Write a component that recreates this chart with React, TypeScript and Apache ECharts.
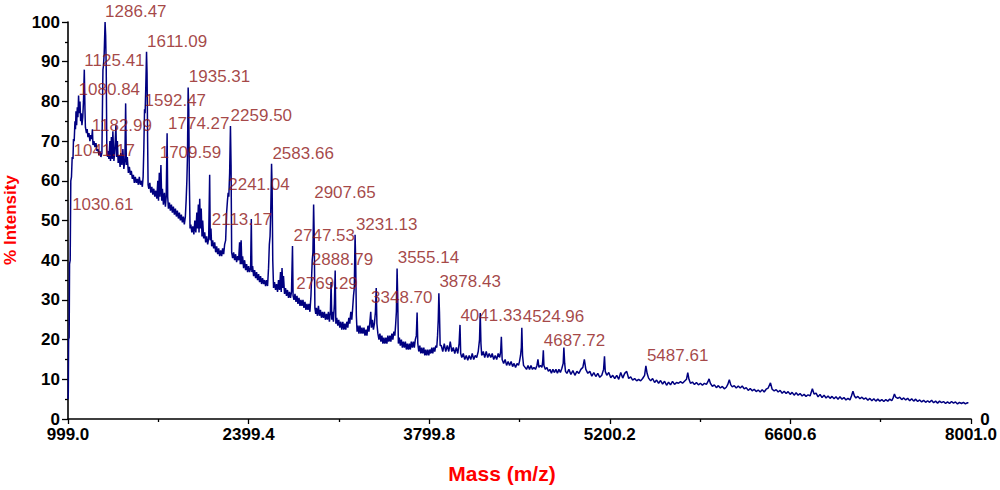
import React, { useEffect, useRef } from "react";
import * as echarts from "echarts";

const MASS_MIN = 999.0;
const MASS_MAX = 8001.0;
const MASS_STEP = 1400.4;
const INT_MIN = 0;
const INT_MAX = 100;
const INT_STEP = 10;

const specA: [number, number][] = [
  [999, 5], [1001.3, 6.5], [1003.6, 20], [1008, 20.5], [1011, 39], [1016, 40], [1020.7, 60], [1026, 61],
  [1031.5, 66], [1037.7, 65.5], [1041.5, 70.5], [1047, 70], [1053, 75], [1057, 73], [1061, 77.5], [1066, 74],
  [1071, 78.5], [1076, 76], [1081, 81.5], [1085.7, 77], [1092, 80], [1097, 75], [1102, 77], [1107, 74],
  [1113.5, 76], [1119, 80], [1125.4, 88], [1130.5, 78], [1134, 73.5], [1142, 72], [1147.5, 73], [1153.7, 71],
  [1161.5, 72], [1169, 70], [1175, 71.5], [1183, 70.5], [1188.5, 73], [1192.4, 69], [1200, 70], [1208, 68.5],
  [1216, 69.5], [1223.4, 67.5], [1231, 68], [1239, 66.5], [1246.6, 67.5], [1254, 66], [1262, 67], [1266.6, 80],
  [1270, 88], [1274, 89], [1279.6, 92], [1286.5, 100], [1291, 96.5], [1295.5, 88], [1300, 68], [1305.6, 66],
];

const specB: [number, number][] = [
  [1308.5, 67.5], [1316, 65.5], [1324, 70], [1328.5, 65], [1335.5, 71], [1341.7, 65.5], [1347, 72.5], [1355, 65],
  [1362.6, 68], [1370.4, 74], [1375.8, 66], [1382, 70], [1388, 64.5], [1396, 66.5], [1403, 63.5], [1409, 67],
  [1417, 64], [1424.5, 68], [1432, 63], [1440, 65], [1446, 79.5], [1451.6, 64], [1459, 66], [1467, 62],
  [1474.8, 63.5], [1482.6, 61.5], [1490, 62.5], [1498, 60.5], [1506, 61.5], [1513.5, 59.5], [1521, 61], [1529, 59.5],
  [1536.7, 60.5], [1544.5, 59], [1552, 61], [1560, 59], [1567.7, 60], [1575.4, 58.5], [1581.6, 61], [1587, 68],
  [1592.5, 78], [1597, 77], [1602.5, 84], [1608, 92.5], [1612, 87], [1616.5, 70], [1620, 59],
];

const specC: [number, number][] = [
  [1625.7, 58], [1633.4, 59.5], [1641, 57], [1649, 58.5], [1656.6, 56.5], [1664.4, 58], [1672, 56], [1680, 57.5],
  [1687.6, 55.5], [1695.3, 60], [1700.7, 55], [1707, 62], [1712, 56], [1719.5, 64], [1725.7, 55], [1731, 58],
  [1738.8, 54], [1746.6, 57], [1754.3, 53.5], [1760.5, 56], [1767.5, 72], [1772, 56], [1777.6, 53], [1785.4, 54.5],
  [1793, 52.5], [1800.8, 54], [1808.5, 52], [1816, 53.5], [1824, 51.5], [1831.7, 53], [1839.4, 51], [1847, 52.5],
  [1855, 50.5], [1862.6, 52], [1870.3, 50], [1878, 51.5], [1885.7, 49.5], [1893.4, 51], [1901, 49], [1909, 51],
  [1915, 55], [1920.7, 60], [1925.3, 66], [1930.7, 83.5], [1935.3, 78], [1940, 60], [1945.4, 48],
];

const specD: [number, number][] = [
  [1951.5, 49], [1959, 47], [1967, 48.5], [1975, 46.5], [1982.6, 50], [1990.4, 47], [1998, 52], [2004, 48],
  [2009.7, 54], [2015, 47], [2020.3, 55.5], [2025.7, 48], [2032, 53], [2038, 46], [2043.4, 50], [2051, 45.5],
  [2059, 47], [2066.6, 44.5], [2074.4, 46], [2082, 44], [2089.8, 45.5], [2097.5, 61.5], [2102, 45], [2107.6, 48],
  [2113, 43.5], [2121, 45], [2128.6, 43], [2136.3, 44.5], [2144, 42], [2151.8, 43.5], [2159.6, 41.5], [2167.3, 43],
  [2175, 41], [2182.8, 42.5], [2190.5, 41], [2198, 43], [2206, 41.5], [2213.7, 44], [2221.4, 45], [2229, 52],
  [2235.4, 55], [2240.8, 57], [2246, 56], [2252.5, 62], [2258.7, 73.8], [2263.4, 64], [2268, 42],
];

const specE: [number, number][] = [
  [2275.6, 40.5], [2283.4, 42], [2291, 40], [2298.8, 41.5], [2306.5, 39.5], [2314.3, 41], [2322, 40], [2329.7, 44.5],
  [2335, 39], [2341.5, 45], [2347, 39], [2353, 41], [2360.7, 38], [2368.5, 40], [2376, 37.5], [2384, 39],
  [2391.7, 37], [2399.4, 38.5], [2407, 37], [2415, 38], [2420.4, 50.4], [2425, 37], [2430.5, 38.5], [2438.3, 36],
  [2446, 37.5], [2453.6, 35.5], [2461.4, 37], [2469, 35], [2476.8, 36.5], [2484.5, 34.5], [2492, 36], [2500, 34],
  [2507.7, 35.5], [2515.4, 34], [2523, 35], [2531, 33.5], [2538.6, 35], [2546.4, 33.5], [2554, 38], [2560.3, 44],
  [2565.7, 46], [2571, 52], [2577.4, 64.3], [2582, 58], [2586.7, 40], [2592.9, 33],
];

const specF: [number, number][] = [
  [2600.6, 34.5], [2608.4, 32.5], [2616, 34], [2623.8, 32], [2631.5, 35], [2639, 32.5], [2647, 37], [2652.4, 32],
  [2658.6, 38], [2664.8, 33], [2670, 36], [2678, 31.5], [2685.7, 33], [2693.4, 31], [2701, 32.5], [2709, 30.5],
  [2716.6, 32], [2724.3, 30.5], [2732, 32], [2739.8, 43.6], [2744.4, 31], [2751.4, 30], [2759, 31.5], [2766.8, 29.5],
  [2774.5, 31], [2782, 29], [2790, 30.5], [2798, 28.5], [2805.5, 30], [2813, 28.5], [2821, 30], [2828.6, 28],
  [2836.4, 29.5], [2844, 27.5], [2852, 29], [2859.6, 27.5], [2867.4, 29], [2875, 27], [2882.8, 31], [2888.2, 36],
  [2892.8, 40], [2898.2, 42], [2903.6, 54], [2908.2, 46], [2913.6, 28], [2920, 26.5],
];

const specG: [number, number][] = [
  [2925.4, 28], [2933.3, 26], [2941, 28.5], [2948.7, 26], [2956.5, 27.5], [2964, 25.5], [2972, 27], [2979.7, 25.5],
  [2987.4, 27], [2995, 25], [3003, 26.5], [3010.6, 25], [3018.4, 27], [3026, 24.5], [3033.8, 27], [3039, 34.5],
  [3044.6, 25], [3050.8, 27], [3057, 24.5], [3064.7, 29], [3070.8, 37.4], [3076, 24], [3083, 25.5], [3091, 23.5],
  [3098.5, 25], [3106.7, 23], [3114.5, 24.5], [3122, 22.5], [3130, 24.5], [3137.7, 22.5], [3145.4, 24], [3153, 22.5],
  [3161, 24.5], [3168.7, 23], [3176.4, 25.5], [3184, 24], [3191.8, 27], [3199.5, 25], [3206.5, 28], [3212.7, 31],
  [3219, 33], [3225, 46.4], [3229.7, 40], [3235, 26], [3240.5, 22],
];

const specH: [number, number][] = [
  [3247.5, 23.5], [3255, 21.5], [3263, 23.5], [3270.7, 21.5], [3278.4, 23], [3286, 21.5], [3294, 23], [3301.7, 21],
  [3309.4, 22.5], [3317, 21], [3324.8, 23.5], [3332.6, 22], [3340, 24.5], [3346.5, 27], [3352, 23], [3359.6, 25],
  [3367.3, 22.5], [3375, 24], [3382.8, 27], [3389, 33], [3394.4, 24], [3402, 21.5], [3410, 20], [3417.6, 21.5],
  [3425.4, 19.5], [3433, 21], [3440.8, 19], [3448.5, 20.5], [3456, 19], [3464, 20.5], [3471.7, 19], [3479.4, 21],
  [3487, 19.5], [3495, 21], [3502.6, 19.5], [3510.4, 21.5], [3518, 20], [3525.8, 22], [3533.5, 21], [3540, 24],
  [3545.4, 27], [3550.8, 37.9], [3555.4, 31], [3560.8, 19],
];

const specI: [number, number][] = [
  [3568.5, 20.5], [3576, 18.5], [3584, 20], [3591.7, 18], [3599.4, 19.5], [3607, 18], [3615, 19.5], [3622.6, 17.5],
  [3630.4, 19], [3638, 17.5], [3646, 19], [3653.5, 17.5], [3661, 19.5], [3669, 18], [3676.7, 19.5], [3684.4, 18],
  [3692, 20], [3700, 21], [3706, 26.8], [3711.4, 19], [3719, 17], [3727, 18.5], [3734.6, 16.5], [3742.4, 18],
  [3750, 16.5], [3758, 18], [3765.6, 16], [3773.4, 17.5], [3781, 16], [3789, 17.5], [3796.6, 16], [3804.4, 17.5],
  [3812, 16.5], [3820, 18], [3827.5, 16.5], [3835, 18], [3843, 17], [3850.7, 18.5], [3858.4, 18], [3864.6, 21],
  [3870, 25], [3874.7, 31.7], [3879.3, 27], [3884.7, 18.5],
];

const specJ: [number, number][] = [
  [3893.4, 18.5], [3905, 17], [3916.6, 19], [3928, 17], [3940, 18.5], [3951.6, 17], [3963, 19.5], [3975, 17],
  [3986.6, 18], [3998, 16.5], [4010, 18], [4021.5, 16.5], [4031.6, 19], [4038.6, 23.7], [4044, 16.5], [4052.5, 15.5],
  [4064, 16.5], [4075.6, 15], [4087, 16], [4098.8, 14.8], [4110, 16], [4122, 15], [4133.5, 16.5], [4145, 15],
  [4156.7, 16], [4168, 15.5], [4180, 17], [4190, 20], [4195.6, 26.7], [4201, 19], [4207, 16], [4219, 17],
  [4230.4, 15.5], [4242, 17], [4253.6, 15.5], [4265, 16.5], [4277, 15.5], [4288.5, 16.5], [4300, 15], [4311.6, 16],
  [4323, 15], [4334.6, 16.5], [4346, 15.5], [4354, 17], [4359.3, 20.7], [4365.5, 15], [4377, 14], [4388.5, 15],
  [4400, 13.5], [4411.7, 14.5], [4423, 13.5], [4435, 14.5], [4446.4, 13.2], [4458, 14], [4469.5, 13], [4481, 14],
  [4492.4, 13.5], [4500, 14.5], [4508, 16], [4514.3, 18], [4518, 23], [4523.6, 16], [4531.3, 13.5],
];

const specK: [number, number][] = [
  [4543, 13], [4554.4, 12.5], [4566, 13.5], [4577.6, 12.5], [4589, 13.5], [4600.6, 12.5], [4612, 13], [4623.7, 12.5],
  [4635.4, 13.5], [4643, 15], [4650.8, 13], [4662.3, 13.5], [4674, 13], [4680, 14.5], [4684.8, 17.3], [4689.4, 13.5],
  [4701, 12.5], [4712.8, 13], [4724, 12], [4736, 12.5], [4747.6, 11.5], [4759, 12.5], [4771, 11.7], [4782.4, 12.5],
  [4794, 11.5], [4805.6, 12.5], [4817, 11.7], [4828.7, 12.8], [4838.8, 14], [4844, 18], [4850.4, 14], [4856.7, 12],
  [4867.5, 11.5], [4883, 12.5], [4898.5, 11.2], [4914, 12.2], [4929.4, 11], [4945, 12], [4960.4, 11.5], [4975.8, 12.5],
  [4991.3, 13], [5002.8, 15], [5014.4, 12.5], [5030, 11.5], [5045.3, 12], [5060.8, 10.8], [5076.2, 11.7], [5091.7, 10.7],
  [5107, 11.5], [5122.6, 10.5], [5138, 11], [5152, 12.5], [5159, 15.8], [5165, 12], [5176.8, 11], [5192.3, 11.7],
  [5207.7, 10.4], [5223, 11], [5238.6, 10.2], [5254, 11], [5269.5, 10], [5285, 11.7], [5300.3, 10.3], [5315.7, 11.5],
  [5331.2, 12], [5346.6, 10.2], [5362, 10.6], [5377.5, 9.8], [5393, 10.2], [5408.4, 9.6], [5423.8, 10], [5439.3, 9.6],
  [5454.7, 10.2], [5470, 11], [5480, 13.4], [5489.4, 11.5], [5501, 10.3],
];

const specL: [number, number][] = [
  [5517, 9.6], [5532, 10.2], [5547.7, 9.2], [5563, 9.8], [5578.6, 9], [5594, 9.7], [5609.4, 8.8], [5625, 9.5],
  [5640.4, 8.5], [5656, 9.3], [5671, 8.6], [5686.6, 9.5], [5702, 8.7], [5717.5, 9.2], [5733, 9], [5748.4, 9.4],
  [5764, 9], [5779.3, 9.5], [5794.8, 10], [5804.8, 11.7], [5814, 10], [5825.7, 9], [5841, 9.3], [5856.6, 8.7],
  [5872, 9.2], [5887.5, 8.6], [5903, 9], [5918.4, 8.5], [5933.8, 9], [5949.3, 8.7], [5960.8, 9.4], [5970, 10.1],
  [5980, 9], [5995.6, 8.2], [6011, 8.6], [6026.5, 7.9], [6042, 8.4], [6057.4, 7.8], [6072.8, 8.2], [6088, 7.6],
  [6103.7, 8], [6115, 8.7], [6127, 9.9], [6138.4, 8.6], [6150, 8.1], [6165.4, 8.4], [6181, 7.8], [6196.3, 8.3],
  [6211.7, 7.8], [6227, 8.3], [6242.6, 7.6], [6258, 7.9], [6273.6, 7.2], [6289, 7.7], [6304.5, 7.1], [6320, 7.5],
  [6335.5, 6.9], [6351, 7.3], [6366.4, 6.8], [6381.8, 7.4], [6397.3, 6.8], [6412.7, 7.5], [6428, 7.8], [6446, 9.1],
  [6459, 7.5], [6474.8, 7.1], [6490.3, 7.4], [6505.7, 6.8], [6521, 7.2], [6536.7, 6.5], [6552, 7], [6567.6, 6.4],
  [6583, 6.9], [6598.6, 6.2], [6614, 6.7], [6629.5, 6], [6645, 6.6], [6660.4, 6], [6675.8, 6.4], [6691.3, 5.8],
  [6706.7, 6.2], [6722, 5.7], [6737.6, 6.1], [6753, 5.8], [6771, 7.6], [6784, 6.3], [6799.8, 6.5], [6815, 5.6],
  [6830.6, 6.2], [6846, 5.4], [6861.5, 6], [6877, 5.3], [6892.5, 5.8], [6908, 5.2], [6923.4, 5.7], [6938.8, 5.1],
  [6954.3, 5.6], [6969.7, 5], [6985, 5.6], [7000.6, 5], [7016, 5.4], [7031.5, 4.8], [7047, 5.2], [7062.4, 4.8],
  [7074, 5.8], [7085.6, 7], [7097, 5.8], [7108.6, 5.3], [7124, 5.7], [7139.5, 5.1], [7155, 5.5], [7170.4, 5],
  [7186, 5.3], [7201.3, 4.7], [7216.7, 5.2], [7232, 4.6], [7247.6, 5.1], [7263, 4.5], [7278.5, 5], [7294, 4.5],
  [7309.4, 4.9], [7324.8, 4.4], [7340.3, 4.9], [7355.7, 4.5], [7371, 5], [7386.6, 4.6], [7398, 5.4], [7407.4, 6.3],
  [7417.5, 5.5], [7433, 5.2], [7448.4, 5.5], [7463.8, 4.9], [7479.3, 5.3], [7494.7, 4.8], [7510, 5.2], [7525.6, 4.6],
  [7541, 5.1], [7556.5, 4.5], [7572, 5], [7587.4, 4.4], [7602.8, 4.8], [7618.3, 4.3], [7633.7, 4.7], [7649, 4.2],
  [7664.6, 4.6], [7680, 4.2], [7695.5, 4.7], [7711, 4.1], [7726.4, 4.5], [7741.8, 4], [7757.3, 4.5], [7772.7, 4.1],
  [7788, 4.4], [7803.6, 3.9], [7819, 4.3], [7834.5, 3.9], [7850, 4.4], [7865.4, 4], [7880.8, 4.3], [7896.3, 3.8],
  [7911.7, 4.2], [7927, 3.9], [7942.6, 4.2], [7958, 3.8], [7973.4, 4.1], [7981, 4],
];

// Annotated peaks (m/z) and the intensity level at which each annotation sits
const peakMasses = [
  1286.47, 1611.09, 1125.41, 1935.31, 1080.84, 1592.47, 2259.5, 1774.27, 1182.99,
  1041.17, 1709.59, 2583.66, 2241.04, 2907.65, 1030.61, 2113.17, 3231.13, 2747.53,
  3555.14, 2888.79, 2769.29, 3878.43, 3348.7, 4041.33, 4524.96, 4687.72, 5487.61,
];
const peakLabelLevels = [
  102.6, 95.0, 90.3, 86.2, 82.9, 80.2, 76.4, 74.4, 73.9,
  67.6, 67.1, 66.8, 59.0, 57.0, 54.0, 50.3, 49.1, 46.2,
  40.6, 40.3, 34.1, 34.6, 30.5, 26.0, 25.8, 19.7, 16.0,
];

const spectrum: [number, number][] = [
  ...specA, ...specB, ...specC, ...specD, ...specE, ...specF,
  ...specG, ...specH, ...specI, ...specJ, ...specK, ...specL,
];

const FONT = 'Arial, "Liberation Sans", sans-serif';

export default function App() {
  const ref = useRef<HTMLDivElement>(null);

  useEffect(() => {
    if (!ref.current) return;
    const chart = echarts.init(ref.current, null, { renderer: "svg" });

    const lineData = spectrum.map(([m, v]) => [m - MASS_MIN, v]);
    const labelData = peakMasses.map((m, i) => [m - MASS_MIN, peakLabelLevels[i]]);

    const option: any = {
      animation: false,
      backgroundColor: "#ffffff",
      grid: { left: 68, right: 27, top: 22, bottom: 71, containLabel: false },
      xAxis: {
        type: "value",
        min: 0,
        max: MASS_MAX - MASS_MIN,
        interval: MASS_STEP,
        axisLine: { show: true, lineStyle: { color: "#000", width: 1.6 } },
        axisTick: { show: true, length: 5, lineStyle: { color: "#000", width: 1.3 } },
        minorTick: { show: true, splitNumber: 2, length: 3, lineStyle: { color: "#000", width: 1.3 } },
        splitLine: { show: false },
        axisLabel: {
          show: true,
          margin: 7,
          color: "#000",
          fontWeight: "bold",
          fontSize: 17,
          fontFamily: FONT,
          showMinLabel: true,
          showMaxLabel: true,
          formatter: (v: number) => (v + MASS_MIN).toFixed(1),
        },
      },
      yAxis: {
        type: "value",
        min: INT_MIN,
        max: INT_MAX,
        interval: INT_STEP,
        axisLine: { show: true, lineStyle: { color: "#000", width: 1.6 } },
        axisTick: { show: true, length: 6, lineStyle: { color: "#000", width: 1.3 } },
        minorTick: { show: true, splitNumber: 2, length: 3, lineStyle: { color: "#000", width: 1.3 } },
        splitLine: { show: false },
        axisLabel: {
          show: true,
          margin: 8,
          color: "#000",
          fontWeight: "bold",
          fontSize: 17,
          fontFamily: FONT,
        },
      },
      series: [
        {
          type: "line",
          data: lineData,
          showSymbol: false,
          symbol: "none",
          lineStyle: { color: "#000080", width: 1.5 },
          itemStyle: { color: "#000080" },
          z: 2,
        },
        {
          type: "scatter",
          data: labelData,
          symbolSize: 0.1,
          itemStyle: { color: "transparent" },
          clip: false,
          silent: true,
          z: 5,
          label: {
            show: true,
            position: "right",
            distance: 0,
            color: "#8E1616",
            fontSize: 17,
            fontFamily: FONT,
            formatter: (p: any) => peakMasses[p.dataIndex].toFixed(2),
          },
        },
      ],
      graphic: [
        {
          type: "text",
          x: 10.5,
          y: 220,
          rotation: Math.PI / 2,
          style: {
            text: "% Intensity",
            font: `bold 17px ${FONT}`,
            fill: "#FF0000",
            align: "center",
            verticalAlign: "middle",
          },
        },
        {
          type: "text",
          x: 502,
          y: 473,
          style: {
            text: "Mass (m/z)",
            font: `bold 21px ${FONT}`,
            fill: "#FF0000",
            align: "center",
            verticalAlign: "middle",
          },
        },
        {
          type: "text",
          x: 985,
          y: 419.5,
          style: {
            text: "0",
            font: `bold 17px ${FONT}`,
            fill: "#000",
            align: "center",
            verticalAlign: "middle",
          },
        },
      ],
    };

    chart.setOption(option);
    return () => chart.dispose();
  }, []);

  return (
    <div
      ref={ref}
      style={{ position: "absolute", left: 0, top: 0, width: 1000, height: 490, background: "#fff" }}
    />
  );
}
